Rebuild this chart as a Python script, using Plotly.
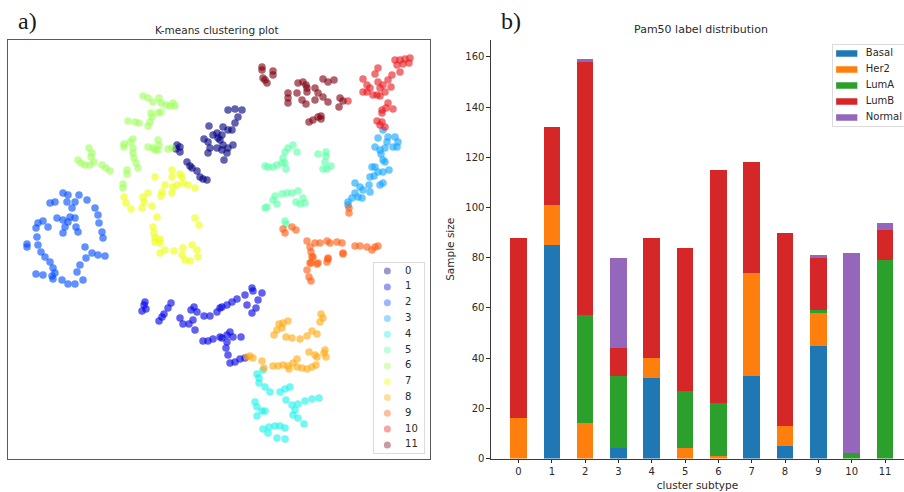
import plotly.graph_objects as go

W, H = 904, 492

# ---------- panel a: embedding coordinates ----------
cluster_labels = ["0", "1", "2", "3", "4", "5", "6", "7", "8", "9", "10", "11"]
cluster_colors = ["#000080", "#0000e8", "#004cff", "#10a4ff", "#1cf2ea", "#5cffa8",
                  "#a0ff60", "#eeff10", "#ffaa10", "#ff5a10", "#e81c20", "#800010"]

cluster_0 = [(177,145),(180,147),(176,149),(180,152),(187,162),(190,166),(192,168),(197,171),(200,177),(203,179),(207,180),
             (209,126),(204,139),(213,135),(217,133),(218,138),(208,142),(210,148),(208,153),(217,148),(222,150),
             (228,110),(235,109),(242,110),(238,117),(235,123),(232,130),(223,127),(228,130),(222,135),(220,140),(223,145),
             (233,145),(228,148),(227,153),(224,160)]
cluster_1 = [(145,302),(144,305),(146,309),(142,311),(171,303),(168,308),(164,314),(162,317),(159,321),
             (194,307),(191,310),(197,312),(180,318),(183,324),(193,320),(189,324),(195,330),(204,316),(210,316),(217,312),(220,308),
             (203,341),(208,341),(213,339),(220,337),(222,307),(227,305),(232,302),(237,299),(245,295),(252,288),(253,291),(262,293),
             (258,300),(247,305),(256,308),(252,313),(230,332),(227,335),(222,338),(233,337),(241,337),(227,342),(226,348),(228,355),
             (230,363),(235,362),(240,359),(245,358)]
cluster_2 = [(63,193),(68,195),(55,202),(50,203),(79,195),(87,200),(75,202),(67,202),(72,208),(95,208),(98,215),(99,223),(102,232),(103,238),
             (57,218),(63,220),(70,217),(68,222),(75,218),(76,227),(65,227),(63,233),(78,232),(43,221),(38,223),(48,227),(36,228),(37,237),
             (27,244),(27,247),(38,245),(41,252),(45,257),(50,262),(53,268),(55,273),(36,274),(43,275),(52,276),(53,279),(62,280),(68,284),
             (75,284),(83,280),(77,272),(80,265),(86,258),(85,247),(92,253),(98,255),(105,256)]
cluster_3 = [(383,130),(378,138),(375,147),(380,150),(388,137),(395,137),(398,142),(397,147),(393,147),(387,142),(385,148),(381,154),(383,160),(385,162),
             (389,170),(383,172),(378,172),(375,167),(372,167),(374,176),(370,177),(369,185),(370,192),(363,190),(360,187),(355,183),(358,197),(362,198),
             (355,193),(352,198),(348,202),(348,205),(380,185),(383,183)]
cluster_4 = [(257,374),(263,370),(259,378),(259,383),(265,387),(270,392),(280,392),(285,389),(290,387),(286,400),(292,405),(298,404),(305,401),(312,399),(319,398),
             (295,410),(298,418),(304,424),(293,415),(255,402),(257,407),(262,411),(265,411),(257,416),(263,429),(269,427),(268,433),(275,426),(280,426),(285,428),
             (277,438),(285,439)]
cluster_5 = [(293,145),(288,148),(285,152),(297,152),(283,158),(282,163),(277,165),(285,163),(286,169),(273,167),(268,167),(265,166),
             (318,154),(326,152),(326,156),(325,162),(331,166),(327,169),(323,169),(298,191),(292,193),(287,193),(282,194),(275,196),(273,200),(277,204),
             (267,207),(265,208),(303,198),(305,203),(300,204),(296,202),(285,221),(286,224)]
cluster_6 = [(143,96),(148,98),(153,102),(159,98),(161,103),(166,105),(170,106),(173,103),(175,106),(161,112),(158,113),(151,113),(152,117),(150,122),(148,126),
             (128,121),(135,122),(139,123),(133,139),(130,142),(124,144),(124,147),(133,148),(133,153),(134,158),(136,163),(138,168),(127,170),(127,174),(123,184),(123,188),
             (148,147),(153,148),(155,150),(158,140),(159,145),(158,150),(168,149),(172,148),(89,148),(92,153),(91,157),(94,162),(90,165),(85,165),(81,163),(78,160),
             (102,165),(106,168),(110,171)]
cluster_7 = [(172,170),(172,177),(180,174),(182,177),(155,177),(165,185),(162,192),(161,196),(173,187),(177,185),(183,183),(188,185),(195,188),(172,193),(148,193),(143,197),
             (144,202),(142,208),(152,206),(157,217),(124,197),(126,203),(131,209),(195,218),(199,225),(153,227),(154,233),(155,238),(160,239),(155,242),(160,243),(160,253),(165,250),
             (174,251),(183,248),(192,245),(197,250),(198,257),(182,255),(185,260),(190,261)]
cluster_8 = [(247,357),(250,356),(253,358),(262,361),(264,368),(273,366),(278,366),(283,365),(288,366),(289,369),(293,363),(297,359),(297,367),(302,368),(307,369),(312,367),(316,365),
             (274,335),(277,330),(279,324),(283,323),(288,321),(282,328),(286,337),(292,338),(300,339),(307,336),(312,331),(317,334),(321,314),(323,318),(320,322),
             (309,352),(315,355),(317,357),(325,350),(326,357),(324,353)]
cluster_9 = [(349,208),(349,213),(283,229),(285,233),(292,227),(296,230),(307,241),(315,243),(320,243),(327,241),(330,243),(337,242),(342,243),(343,253),(310,247),(312,257),(318,263),
             (328,259),(311,263),(355,246),(360,246),(367,247),(372,250),(378,246),(375,247),(311,252),(313,257),(310,263),(317,264),(327,262),(328,258),(307,270),(309,277),(311,281),(343,254)]
cluster_10 = [(395,60),(400,60),(405,59),(410,58),(409,63),(403,64),(397,65),(400,72),(392,75),(388,80),(391,87),(378,68),(375,74),(363,79),(367,85),(370,88),(378,82),(383,85),(380,88),
              (385,92),(380,96),(377,95),(373,95),(367,92),(363,92),(388,103),(386,108),(382,110),(393,109),(382,113),(377,121),(382,122),(385,127),(380,125),(348,101)]
cluster_11 = [(262,67),(262,70),(265,80),(263,78),(267,83),(273,71),(273,75),(288,93),(288,98),(288,103),(298,83),(303,82),(306,85),(297,93),(307,92),(302,100),(306,104),
              (315,88),(318,93),(315,100),(323,97),(328,102),(323,79),(328,82),(334,80),(340,98),(343,101),(339,107),(309,122),(313,120),(318,117),(321,116),(321,119),(307,88)]
clusters = [cluster_0, cluster_1, cluster_2, cluster_3, cluster_4, cluster_5,
            cluster_6, cluster_7, cluster_8, cluster_9, cluster_10, cluster_11]

# ---------- panel b: stacked counts ----------
subtypes = list(range(12))
pam50 = ["Basal", "Her2", "LumA", "LumB", "Normal"]
pam50_colors = ["#1f77b4", "#ff7f0e", "#2ca02c", "#d62728", "#9467bd"]
basal  = [0, 85,  0,  4, 32,  0,  0, 33,  5, 45,  0,  0]
her2   = [16, 16, 14, 0,  8,  4,  1, 41,  8, 13,  0,  0]
luma   = [0,  0, 43, 29,  0, 23, 21,  0,  0,  1,  2, 79]
lumb   = [72, 31, 101, 11, 48, 57, 93, 44, 77, 21, 0, 12]
normal = [0,  0,  1, 36,  0,  0,  0,  0,  0,  1, 80,  3]
counts = [basal, her2, luma, lumb, normal]

INK = "#2a2a2a"
FONT = "DejaVu Sans"


def xdom(a, b):
    return [a / W, b / W]


def ydom(top, bottom):
    return [1 - bottom / H, 1 - top / H]


fig = go.Figure()

for pts, lab, col in zip(clusters, cluster_labels, cluster_colors):
    fig.add_trace(go.Scatter(
        x=[p[0] for p in pts], y=[p[1] for p in pts], mode="markers", name=lab,
        xaxis="x", yaxis="y", showlegend=False, hoverinfo="skip",
        marker=dict(size=7.5, color=col, opacity=0.62, line=dict(width=0))))

for name, col, vals in zip(pam50, pam50_colors, counts):
    fig.add_trace(go.Bar(x=subtypes, y=vals, name=name, width=0.5, xaxis="x2", yaxis="y2",
                         marker=dict(color=col, line=dict(width=0)), showlegend=False))

# legend of panel a, drawn on a small axis so its rows can be as tight as the reference
for i, (lab, col) in enumerate(zip(cluster_labels, cluster_colors)):
    fig.add_trace(go.Scatter(x=[0.27], y=[i], mode="markers", xaxis="x3", yaxis="y3", showlegend=False,
                             hoverinfo="skip", marker=dict(size=7, color=col, opacity=0.4, line=dict(width=0))))
fig.add_trace(go.Scatter(x=[0.62] * 12, y=list(range(12)), mode="text", text=cluster_labels,
                         textposition="middle right", xaxis="x3", yaxis="y3", showlegend=False, hoverinfo="skip",
                         textfont=dict(family=FONT, size=10, color=INK)))

# legend of panel b
for i, (name, col) in enumerate(zip(pam50, pam50_colors)):
    fig.add_trace(go.Scatter(x=[0.04, 0.34], y=[i, i], mode="lines", xaxis="x4", yaxis="y4", showlegend=False,
                             hoverinfo="skip", line=dict(color=col, width=6.5)))
fig.add_trace(go.Scatter(x=[0.46] * 5, y=list(range(5)), mode="text", text=pam50,
                         textposition="middle right", xaxis="x4", yaxis="y4", showlegend=False, hoverinfo="skip",
                         textfont=dict(family=FONT, size=10, color=INK)))

hidden = dict(showgrid=False, zeroline=False, showticklabels=False, ticks="", fixedrange=True, automargin=False)
frame = dict(showline=True, mirror=True, linecolor="#5a5a5a", linewidth=1.3)
box = dict(showline=True, mirror=True, linecolor="#dcdcdc", linewidth=1)

fig.update_layout(
    width=W, height=H, autosize=False, margin=dict(l=0, r=0, t=0, b=0),
    paper_bgcolor="white", plot_bgcolor="white", barmode="stack", bargap=0,
    font=dict(family=FONT, size=10, color=INK),
    xaxis=dict(domain=xdom(8, 430), range=[8, 430], anchor="y", **hidden, **frame),
    yaxis=dict(domain=ydom(40, 459), range=[459, 40], anchor="x", **hidden, **frame),
    xaxis2=dict(domain=xdom(491, 904), range=[-0.826, 11.57], anchor="y2", automargin=False, tickvals=subtypes,
                ticks="outside", ticklen=3.5,
                tickwidth=1, tickcolor=INK, showgrid=False, zeroline=False, showline=True, linecolor="#3a3a3a",
                linewidth=1.2, tickfont=dict(size=10, color=INK),
                title=dict(text="cluster subtype", standoff=5, font=dict(size=10.5, color=INK))),
    yaxis2=dict(domain=ydom(40, 458.5), range=[0, 166.7], anchor="x2", automargin=False,
                tickvals=list(range(0, 161, 20)), ticks="outside", ticklen=3.5,
                tickwidth=1, tickcolor=INK, showgrid=False, zeroline=False, showline=True, linecolor="#3a3a3a",
                linewidth=1.2, tickfont=dict(size=10, color=INK),
                title=dict(text="Sample size", standoff=8, font=dict(size=10.5, color=INK))),
    xaxis3=dict(domain=xdom(373.7, 424.3), range=[0, 1], anchor="y3", **hidden, **box),
    yaxis3=dict(domain=ydom(262.7, 453.3), range=[11.53, -0.53], anchor="x3", **hidden, **box),
    xaxis4=dict(domain=xdom(833.3, 904), range=[0, 1], anchor="y4", **hidden, **box),
    yaxis4=dict(domain=ydom(45, 126), range=[4.53, -0.53], anchor="x4", **hidden, **box),
    annotations=[
        dict(text="K-means clustering plot", x=216.5 / W, y=1 - 30 / H, xref="paper", yref="paper", showarrow=False,
             font=dict(family=FONT, size=10.5, color=INK), xanchor="center", yanchor="middle"),
        dict(text="Pam50 label distribution", x=701 / W, y=1 - 29.5 / H, xref="paper", yref="paper", showarrow=False,
             font=dict(family=FONT, size=11, color=INK), xanchor="center", yanchor="middle"),
        dict(text="a)", x=16 / W, y=1 - 21 / H, xref="paper", yref="paper", showarrow=False,
             font=dict(family="Liberation Serif", size=24, color="#1a1a1a"), xanchor="left", yanchor="middle"),
        dict(text="b)", x=499 / W, y=1 - 21 / H, xref="paper", yref="paper", showarrow=False,
             font=dict(family="Liberation Serif", size=24, color="#1a1a1a"), xanchor="left", yanchor="middle"),
    ],
)

fig.write_html("out.html", post_script="document.body.style.margin='0';", config={"displayModeBar": False})
